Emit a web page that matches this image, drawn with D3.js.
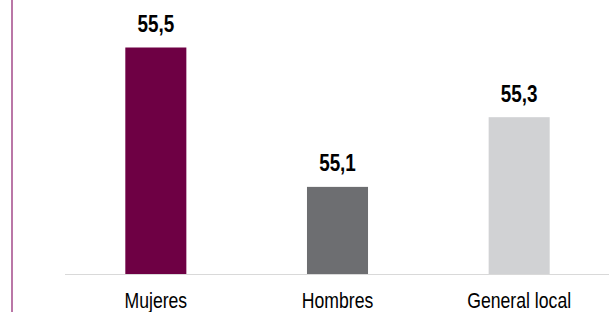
<!DOCTYPE html>
<html>
<head>
    <meta charset="utf-8">
    <script src="https://d3js.org/d3.v7.min.js"></script>
    <style>
        body { margin: 0; background: #fff; }
        text { font-family: "Liberation Sans", Arial, sans-serif; }
    </style>
</head>
<body>
    <svg width="610" height="312"></svg>
    <script>
        var categories = ["Mujeres", "Hombres", "General local"];
        var values = [55.5, 55.1, 55.3];
        var valueLabels = ["55,5", "55,1", "55,3"];
        var colors = ["#6e0044", "#6d6e71", "#d1d2d4"];

        var svg = d3.select("svg");
        var baseY = 274;
        var squeeze = 0.82; // narrow look of the original condensed font

        var x = d3.scaleBand()
            .domain(categories)
            .range([65, 610])
            .paddingInner(0.664)
            .paddingOuter(0.332);

        var y = d3.scaleLinear()
            .domain([54.85, 55.5])
            .range([baseY, 47.5]);

        // left border line
        svg.append("line")
            .attr("x1", 12).attr("x2", 12)
            .attr("y1", 0).attr("y2", 312)
            .attr("stroke", "#a34a8a")
            .attr("stroke-width", 1.5);

        svg.selectAll("rect.bar")
            .data(values)
            .enter()
            .append("rect")
            .attr("class", "bar")
            .attr("x", (d, i) => x(categories[i]))
            .attr("y", d => y(d))
            .attr("width", x.bandwidth())
            .attr("height", d => baseY - y(d))
            .attr("fill", (d, i) => colors[i]);

        // baseline
        svg.append("line")
            .attr("x1", 65).attr("x2", 609)
            .attr("y1", baseY + 0.5).attr("y2", baseY + 0.5)
            .attr("stroke", "#d9d9d9")
            .attr("stroke-width", 1);

        svg.selectAll("text.val")
            .data(values)
            .enter()
            .append("text")
            .attr("class", "val")
            .attr("transform", (d, i) => "translate(" + (x(categories[i]) + x.bandwidth() / 2) + "," + (y(d) - 15.5) + ") scale(" + squeeze + ",1)")
            .attr("text-anchor", "middle")
            .attr("font-size", 23)
            .attr("font-weight", "bold")
            .attr("fill", "#000")
            .text((d, i) => valueLabels[i]);

        svg.selectAll("text.cat")
            .data(categories)
            .enter()
            .append("text")
            .attr("class", "cat")
            .attr("transform", d => "translate(" + (x(d) + x.bandwidth() / 2) + ",307.5) scale(" + squeeze + ",1)")
            .attr("text-anchor", "middle")
            .attr("font-size", 21.5)
            .attr("fill", "#000")
            .text(d => d);
    </script>
</body>
</html>
